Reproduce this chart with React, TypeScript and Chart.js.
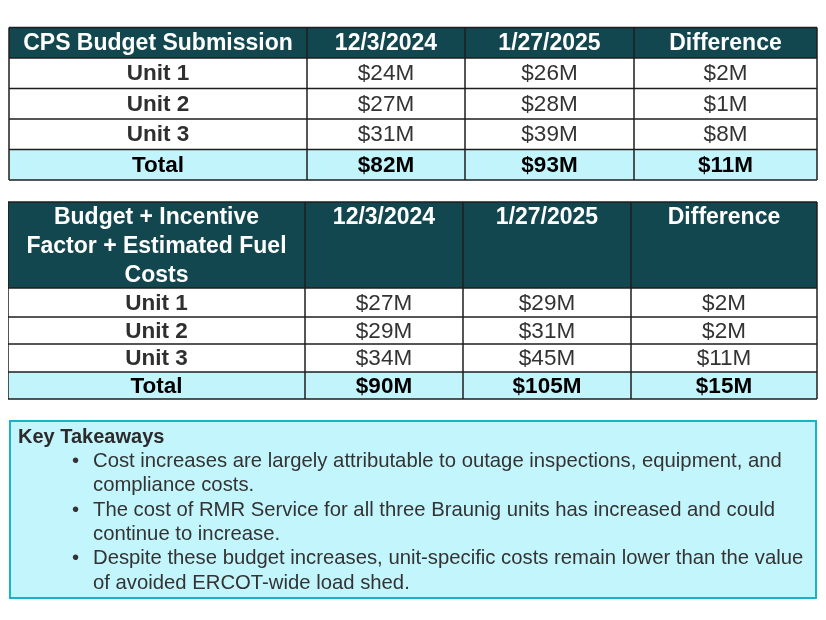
import React, { useEffect, useRef } from "react";
import { Chart, registerables } from "chart.js";

Chart.register(...registerables);

// ---------- data ----------
const table1Header = ["CPS Budget Submission", "12/3/2024", "1/27/2025", "Difference"];
const table2Header = ["Budget + Incentive\nFactor + Estimated Fuel\nCosts", "12/3/2024", "1/27/2025", "Difference"];
const unitLabels = ["Unit 1", "Unit 2", "Unit 3"];
const totalLabel = "Total";

const budgetDec2024 = [24, 27, 31];
const budgetJan2025 = [26, 28, 39];
const budgetDifference = [2, 1, 8];
const budgetTotals = [82, 93, 11];

const fuelDec2024 = [27, 29, 34];
const fuelJan2025 = [29, 31, 45];
const fuelDifference = [2, 2, 11];
const fuelTotals = [90, 105, 15];

const takeawaysTitle = "Key Takeaways";
const takeawayLines: { bullet: boolean; text: string }[] = [
  { bullet: true, text: "Cost increases are largely attributable to outage inspections, equipment, and" },
  { bullet: false, text: "compliance costs." },
  { bullet: true, text: "The cost of RMR Service for all three Braunig units has increased and could" },
  { bullet: false, text: "continue to increase." },
  { bullet: true, text: "Despite these budget increases, unit-specific costs remain lower than the value" },
  { bullet: false, text: "of avoided ERCOT-wide load shed." },
];

const fmt = (v: number) => `$${v}M`;

// ---------- layout (page coordinates) ----------
const FONT = "'Liberation Sans', Arial, sans-serif";
const layout1 = { cols: [9, 307, 465, 634, 817], rows: [27.5, 58, 88.5, 119, 149.5, 180], headerTop: false };
const layout2 = { cols: [8, 305, 463, 631, 817], rows: [202, 288, 317, 344, 372, 399], headerTop: true };
const boxLayout = { left: 10, top: 421, right: 816, bottom: 598 };

const HEADER_BG = "#13474f";
const TOTAL_BG = "#c2f4fc";
const BORDER = "#1e1e1e";

function drawTable(chart: any, lay: any, header: string[], rows: (string)[][]) {
  const ctx = chart.ctx as CanvasRenderingContext2D;
  const X = (v: number) => chart.scales.x.getPixelForValue(v);
  const Y = (v: number) => chart.scales.y.getPixelForValue(v);
  const cols = lay.cols.map(X);
  const rws = lay.rows.map(Y);
  const nRows = rws.length - 1;
  for (let r = 0; r < nRows; r++) {
    let fill = "#ffffff";
    if (r === 0) fill = HEADER_BG;
    else if (r === nRows - 1) fill = TOTAL_BG;
    ctx.fillStyle = fill;
    ctx.fillRect(cols[0], rws[r], cols[cols.length - 1] - cols[0], rws[r + 1] - rws[r]);
  }
  ctx.strokeStyle = BORDER;
  ctx.lineWidth = 1.5;
  for (const y of rws) {
    ctx.beginPath();
    ctx.moveTo(cols[0], y);
    ctx.lineTo(cols[cols.length - 1], y);
    ctx.stroke();
  }
  for (const x of cols) {
    ctx.beginPath();
    ctx.moveTo(x, rws[0]);
    ctx.lineTo(x, rws[rws.length - 1]);
    ctx.stroke();
  }
  ctx.textAlign = "center";
  ctx.textBaseline = "middle";
  ctx.fillStyle = "#ffffff";
  ctx.font = `bold 23px ${FONT}`;
  const lineH = 29;
  header.forEach((h, c) => {
    const cx = (cols[c] + cols[c + 1]) / 2;
    const lines = h.split("\n");
    const y0 = lay.headerTop
      ? rws[0] + 15
      : (rws[0] + rws[1]) / 2 - ((lines.length - 1) * lineH) / 2;
    lines.forEach((ln, i) => ctx.fillText(ln, cx, y0 + i * lineH + 1));
  });
  rows.forEach((row, r) => {
    const isTotal = r === rows.length - 1;
    const cy = (rws[r + 1] + rws[r + 2]) / 2 + 1;
    row.forEach((txt, c) => {
      const cx = (cols[c] + cols[c + 1]) / 2;
      if (isTotal) {
        ctx.font = `bold 22.5px ${FONT}`;
        ctx.fillStyle = "#000000";
      } else if (c === 0) {
        ctx.font = `bold 22.5px ${FONT}`;
        ctx.fillStyle = "#2f2f2f";
      } else {
        ctx.font = `22.5px ${FONT}`;
        ctx.fillStyle = "#333333";
      }
      ctx.fillText(txt, cx, cy);
    });
  });
}

function buildRows(a: number[], b: number[], d: number[], t: number[]) {
  const rows = unitLabels.map((u, i) => [u, fmt(a[i]), fmt(b[i]), fmt(d[i])]);
  rows.push([totalLabel, fmt(t[0]), fmt(t[1]), fmt(t[2])]);
  return rows;
}

const tablePlugin = {
  id: "tablePlugin",
  afterDraw(chart: any) {
    const ctx = chart.ctx as CanvasRenderingContext2D;
    const X = (v: number) => chart.scales.x.getPixelForValue(v);
    const Y = (v: number) => chart.scales.y.getPixelForValue(v);
    ctx.save();
    drawTable(chart, layout1, table1Header, buildRows(budgetDec2024, budgetJan2025, budgetDifference, budgetTotals));
    drawTable(chart, layout2, table2Header, buildRows(fuelDec2024, fuelJan2025, fuelDifference, fuelTotals));

    const l = X(boxLayout.left), t = Y(boxLayout.top), r = X(boxLayout.right), b = Y(boxLayout.bottom);
    ctx.fillStyle = "#c3f5fc";
    ctx.fillRect(l, t, r - l, b - t);
    ctx.strokeStyle = "#17b3ca";
    ctx.lineWidth = 2;
    ctx.strokeRect(l, t, r - l, b - t);

    ctx.textAlign = "left";
    ctx.textBaseline = "middle";
    ctx.fillStyle = "#2b2b2b";
    ctx.font = `bold 20px ${FONT}`;
    const step = 24.33;
    const firstY = Y(437);
    ctx.fillText(takeawaysTitle, X(18), firstY);
    ctx.font = `20.3px ${FONT}`;
    ctx.fillStyle = "#333333";
    takeawayLines.forEach((ln, i) => {
      const y = firstY + (i + 1) * step;
      if (ln.bullet) ctx.fillText("•", X(72), y);
      ctx.fillText(ln.text, X(93), y);
    });
    ctx.restore();
  },
};

export default function App() {
  const ref = useRef<HTMLCanvasElement | null>(null);
  useEffect(() => {
    if (!ref.current) return;
    const chart = new Chart(ref.current, {
      type: "scatter",
      data: { datasets: [] },
      options: {
        animation: false,
        responsive: false,
        devicePixelRatio: 1,
        layout: { padding: 0 },
        events: [],
        plugins: { legend: { display: false }, tooltip: { enabled: false }, title: { display: false } },
        scales: {
          x: { type: "linear", min: 8, max: 818, display: false },
          y: { type: "linear", min: 8, max: 612, reverse: true, display: false },
        },
      },
      plugins: [tablePlugin],
    });
    return () => chart.destroy();
  }, []);
  return (
    <div style={{ width: 810, height: 604 }}>
      <canvas ref={ref} width={810} height={604} style={{ display: "block" }} />
    </div>
  );
}
